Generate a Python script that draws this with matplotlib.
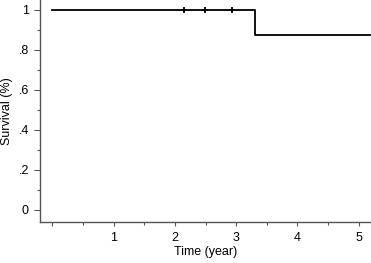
import numpy as np
import matplotlib
matplotlib.use('Agg')
import matplotlib.pyplot as plt
from matplotlib.ticker import MultipleLocator, FuncFormatter

plt.rcParams['font.family'] = ['Liberation Sans', 'DejaVu Sans']

# Kaplan-Meier step curve
step_time = [0.0, 3.31, 5.18]
step_surv = [1.0, 0.875, 0.875]
censor_time = [2.15, 2.49, 2.93]
censor_surv = [1.0, 1.0, 1.0]

fig = plt.figure(figsize=(3.71, 2.63), dpi=100)
ax = fig.add_axes([0.108, 0.156, 0.892, 0.844])

ax.step(step_time, step_surv, where='post', color='black', lw=1.3)
ax.plot(censor_time, censor_surv, '+', color='black', ms=4.5, mew=1.3)

ax.set_xlim(-0.2, 5.2)
ax.set_ylim(-0.06, 1.05)
ax.xaxis.set_major_locator(MultipleLocator(1))
ax.xaxis.set_minor_locator(MultipleLocator(0.5))
ax.yaxis.set_major_locator(MultipleLocator(0.2))
ax.yaxis.set_minor_locator(MultipleLocator(0.1))

def xfmt(v, pos):
    return '' if abs(v) < 1e-9 else '%d' % round(v)

def yfmt(v, pos):
    if abs(v) < 1e-9:
        return '0'
    if abs(v - 1) < 1e-9:
        return '1'
    return ('%.1f' % v).lstrip('0')

ax.xaxis.set_major_formatter(FuncFormatter(xfmt))
ax.yaxis.set_major_formatter(FuncFormatter(yfmt))

for s in ['top', 'right']:
    ax.spines[s].set_visible(False)
for s in ['left', 'bottom']:
    ax.spines[s].set_color('#555555')
    ax.spines[s].set_linewidth(1.0)

ax.tick_params(axis='y', which='major', direction='out', length=4, width=0.8, color='#555555', labelsize=9, pad=4)
ax.tick_params(axis='x', which='major', direction='out', length=3, width=0.8, color='#555555', labelsize=9, pad=4)
ax.tick_params(which='minor', direction='out', length=2.5, width=0.8, color='#555555')

ax.set_xlabel('Time (year)', fontsize=9, labelpad=2)
ax.set_ylabel('Survival (%)', fontsize=9, labelpad=4)

fig.savefig('out.png', dpi=100)
